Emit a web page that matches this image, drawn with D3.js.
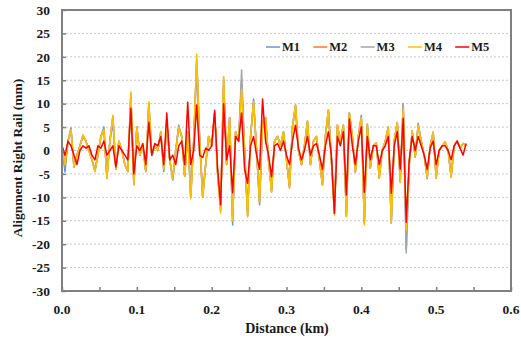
<!DOCTYPE html>
<html><head><meta charset="utf-8">
<script src="https://cdn.jsdelivr.net/npm/d3@7"></script>
<style>body{margin:0;background:#fff}svg{display:block}</style>
</head><body>
<svg id="c" width="521" height="341"></svg>
<script>
const seriesNames = ["M1","M2","M3","M4","M5"];
const seriesColors = ["#5B9BD5","#ED7D31","#A5A5A5","#FFC000","#FF0000"];
const xTicks = [0,0.1,0.2,0.3,0.4,0.5,0.6];
const yTicks = [-30,-25,-20,-15,-10,-5,0,5,10,15,20,25,30];
// distance samples every 0.004 km from 0 to 0.54
const distance = d3.range(136).map(i => +(i*0.004).toFixed(3));
const M4 = [1,-3,2,4.5,-3.5,-1,1,3.3,2,0,-2,-4.5,-1,3,4.5,-6,2,7.5,-4,2,0,-3,-4.5,12.5,-7.3,5,-1,1,-4.5,10.4,
 -1,1,0,4,-4,6,-2,-6,0,5,3,-5.5,4,-10.3,2,20.6,2,-10,-3,3,1,8,-5,-13.4,15.8,-3,7,-15,4,2,
 13,0,-14.2,3,10.4,0,-11,6,7,-2,-8.9,2,3,1,4,-2,-7.8,5,9.7,0,-3,1,6.3,-3,2,3,-2,-7.4,3,8.7,
 -2,-13.8,5.4,2,5.4,-14.2,8,3,-4.6,3,7,-15.9,5.6,-3.7,1,1.6,-5.9,0,2,5,-15.5,2,6,-6.7,9,-17,
 -3,4.2,-1.4,5.4,2,-1,-5.7,1,3.9,-5.9,0,1,1.8,0,-5.7,1,2,0.5,1.5,1];
const M1 = [1,-4.6,2,4.8,-3.5,-1,1,3,2,0,-2,-4,-1,3,5,-5.5,2,6,-4,2,0,-3,-4.5,11.5,-7,5,-1,1,-4.5,9.5,
 -1,1,0,4,-4.5,6,-2,-6.3,0,5.4,3,-5.5,4,-9,2,18,2,-9.5,-3,3,1,8,-5,-12,14,-3,7,-15.9,4,2,
 15,0,-13,3,11,0,-11.6,6,7,-2,-8.5,2,3,1,4,-2,-7.5,5,9.5,0,-3,1,6,-3,2,3,-2,-7,3,8.5,
 -2,-13,5,2,5.4,-13.5,8,3,-4.6,3,7.5,-15,5.6,-3.7,1,1.6,-5.5,0,2,5,-15.5,2,6,-6.5,10,-21,
 -3,4,-1.4,5.8,2,-1,-6,1,3.9,-5.5,0,1,1.8,0,-5.5,1,2,0.5,1.5,1];
const M2 = [1,-3.5,2,4.5,-3.5,-1,1,3.2,2,0,-2,-4.3,-1,3,4.5,-5.8,2,7.2,-4,2,0,-3,-4.5,12,-7.2,5,-1,1,-4.5,10,
 -1,1,0,4,-4,6,-2,-6,0,5,3,-5.5,4,-10,2,19,2,-10,-3,3,1,8,-5,-12.5,15,-3,7,-14,4,2,
 14,0,-14,3,10.2,0,-11,6,7,-2,-8.7,2,3,1,4,-2,-8,5,9.7,0,-3,1,6.3,-3,2,3,-2,-7.4,3,8.5,
 -2,-12,5.4,2,5.4,-14,8,3,-4.6,3,7,-15.5,5.6,-3.7,1,1.6,-5.9,0,2,5,-15,2,6,-6.7,9.5,-18,
 -3,4.2,-1.4,5.4,2,-1,-5.7,1,3.9,-5.9,0,1,1.8,0,-5.7,1,2,0.5,1.5,1];
const M3 = [1,-3.2,2,4.5,-3.5,-1,1,3.3,2,0,-2,-4.5,-1,3,4.5,-6,2,7.4,-4,2,0,-3,-4.5,12.2,-7.3,5,-1,1,-4.5,10.2,
 -1,1,0,4,-4,6,-2,-6,0,5,3,-5.5,4,-10,2,19.5,2,-10,-3,3,1,8,-5,-13,15.5,-3,7,-15,4,2,
 17.2,0,-14,3,10.4,0,-11,6,7,-2,-8.9,2,3,1,4,-2,-7.8,5,9.7,0,-3,1,6.3,-3,2,3,-2,-7.4,3,8.7,
 -2,-13.5,5.4,2,5.4,-14,8,3,-4.6,3,7,-15.5,5.6,-3.7,1,1.6,-5.9,0,2,5,-15.5,2,6,-6.7,10.1,-21.9,
 -3,4.2,-1.4,5.4,2,-1,-5.7,1,3.9,-5.9,0,1,1.8,0,-5.7,1,2,0.5,1.5,1];
const M5 = [1,-1,2,1,-1,-3,0,1,0.5,1,-1,-2,1,0.5,2,-1,0,1,-3.5,1,0,-1,-2,9,-5,1,0,1.5,-3,6,
 -1,1.5,1,3,-3,8,-2,-1,-3,1,2,-3,10.3,-3,0,9.7,-1,-1.5,0.5,0,1,8.6,-4,-11.6,10,-2,1,-9,3,2,
 8,-4,-7,1,3,-1,-4,11,2,-1,-5.6,1,1.5,0,2,-1,-3,2,5.4,0.5,-2,0,3,-1,1,1.5,-1,-4,1,4,
 -1,-13.4,3,1,4,-9.5,6.7,1,-3,2,5,-8.9,3,-2,1,1,-3,0,1,3,-9.1,1,4,-4,6.9,-15.3,
 -2,3,0,3,1,-1,-4,0.5,2,-3,0,1,1,0,-2,1,2,0.5,-1,1.5];
const seriesValues = [M1,M2,M3,M4,M5];

const svg = d3.select("#c");
const font = "'Liberation Serif', 'Times New Roman', serif";
const L = 62, R = 511, T = 10, B = 291;
const x = d3.scaleLinear().domain([0,0.6]).range([L,R]);
const y = d3.scaleLinear().domain([-30,30]).range([B,T]);

// grid
svg.append("g").selectAll("line").data(yTicks.filter(v => v > -30 && v < 30)).join("line")
  .attr("x1", L).attr("x2", R).attr("y1", d => y(d)).attr("y2", d => y(d))
  .attr("stroke", "#c8c8c8").attr("stroke-width", 1).attr("stroke-dasharray", "2,2");

// lines
const line = d3.line().x((d,i) => x(distance[i])).y(d => y(d));
seriesValues.forEach((vals, k) => {
  svg.append("path").datum(vals).attr("d", line)
    .attr("fill", "none").attr("stroke", seriesColors[k]).attr("stroke-width", 1.5)
    .attr("stroke-linejoin", "round");
});

// frame
svg.append("rect").attr("x", L).attr("y", T).attr("width", R-L).attr("height", B-T)
  .attr("fill", "none").attr("stroke", "#808080").attr("stroke-width", 2);

// axes
const xAxis = d3.axisBottom(x).tickValues(d3.range(0,0.601,0.05)).tickSize(-4).tickFormat("");
svg.append("g").attr("transform", `translate(0,${B})`).call(xAxis)
  .call(g => g.select(".domain").remove())
  .call(g => g.selectAll("line").attr("stroke", "#808080").attr("stroke-width", 1.5));
const yAxis = d3.axisLeft(y).tickValues(yTicks).tickSize(-4).tickFormat("");
svg.append("g").attr("transform", `translate(${L},0)`).call(yAxis)
  .call(g => g.select(".domain").remove())
  .call(g => g.selectAll("line").attr("stroke", "#808080").attr("stroke-width", 1.5));

// tick labels
svg.append("g").selectAll("text").data(yTicks).join("text")
  .attr("x", 50).attr("y", d => y(d)).attr("dy", "0.35em").attr("text-anchor", "end")
  .attr("font-family", font).attr("font-weight", "bold").attr("font-size", 13.5).attr("fill", "#1a1a1a")
  .text(d => d);
svg.append("g").selectAll("text").data(xTicks).join("text")
  .attr("x", d => x(d)).attr("y", 309).attr("dy", "0.35em").attr("text-anchor", "middle")
  .attr("font-family", font).attr("font-weight", "bold").attr("font-size", 13.5).attr("fill", "#1a1a1a")
  .text(d => d.toFixed(1));

// axis titles
svg.append("text").attr("x", 287).attr("y", 328).attr("dy", "0.35em").attr("text-anchor", "middle")
  .attr("font-family", font).attr("font-weight", "bold").attr("font-size", 14).attr("fill", "#1a1a1a")
  .text("Distance (km)");
svg.append("text").attr("transform", "translate(17,158) rotate(-90)").attr("dy", "0.35em")
  .attr("text-anchor", "middle").attr("font-family", font).attr("font-weight", "bold")
  .attr("font-size", 13.5).attr("fill", "#1a1a1a").text("Alignment Right Rail (mm)");

// legend
const leg = svg.append("g").selectAll("g").data(seriesNames).join("g")
  .attr("transform", (d,i) => `translate(${266 + i*47.3},47)`);
leg.append("line").attr("x1", 0).attr("x2", 14).attr("y1", 0).attr("y2", 0)
  .attr("stroke", (d,i) => seriesColors[i]).attr("stroke-width", 1.5);
leg.append("text").attr("x", 16).attr("dy", "0.35em").attr("font-family", font)
  .attr("font-weight", "bold").attr("font-size", 12.5).attr("fill", "#1a1a1a").text(d => d);
</script>
</body></html>
